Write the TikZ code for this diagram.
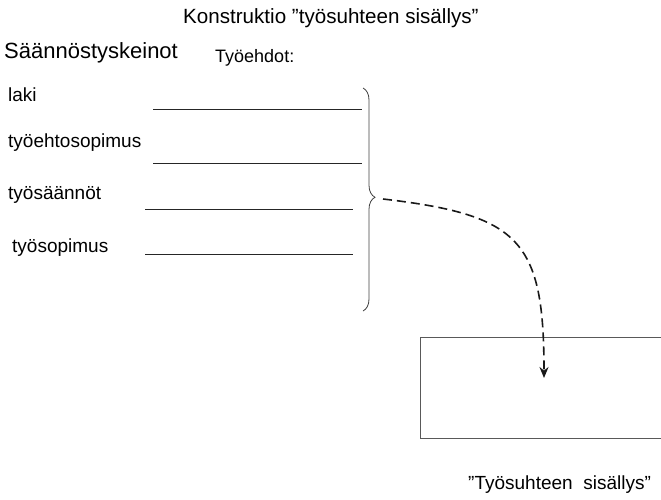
\documentclass[tikz,border=0pt]{standalone}
\usepackage{fontspec}
\setmainfont{Liberation Sans}
\usetikzlibrary{decorations.pathreplacing,arrows.meta}
\tikzset{
  lbl/.style={anchor=base west, inner sep=0pt, font=\fontsize{19}{23}\selectfont},
  blank/.style={draw=black!85, line width=0.8pt},
  conn/.style={draw=black!90, line width=1.6pt, dash pattern=on 9pt off 5pt, -{Stealth[length=11pt,width=9pt]}},
  brc/.style={draw=black!75, line width=0.8pt, decorate, decoration={brace, amplitude=12pt, aspect=0.49}},
  boxline/.style={draw=black!65, line width=0.9pt}
}
\begin{document}
\begin{tikzpicture}[x=1pt,y=-1pt]
\useasboundingbox (0,0) rectangle (661,499);
\node[anchor=base west, inner sep=0pt, font=\fontsize{20.6}{25}\selectfont] (title) at (183,23) {Konstruktio ”työsuhteen sisällys”};
\node[anchor=base west, inner sep=0pt, font=\fontsize{22}{26}\selectfont] (saan) at (4,58) {Säännöstyskeinot};
\node[anchor=base west, inner sep=0pt, font=\fontsize{18}{22}\selectfont] (ehdot) at (215,62) {Työehdot:};
\node[lbl] (laki) at (8,101) {laki};
\node[lbl] (tes) at (8,147) {työehtosopimus};
\node[lbl] (tsa) at (8,199) {työsäännöt};
\node[lbl] (tso) at (12,252) {työsopimus};
\coordinate (l1a) at (153,109); \coordinate (l1b) at (362,109);
\coordinate (l2a) at (153,163); \coordinate (l2b) at (362,163);
\coordinate (l3a) at (145,209); \coordinate (l3b) at (353,209);
\coordinate (l4a) at (145,254); \coordinate (l4b) at (353,254);
\draw[blank] (l1a) -- (l1b);
\draw[blank] (l2a) -- (l2b);
\draw[blank] (l3a) -- (l3b);
\draw[blank] (l4a) -- (l4b);
\coordinate (btop) at (363,88);
\coordinate (bbot) at (363,311);
\draw[brc] (btop) -- (bbot);
\coordinate (tip) at (383,199);
\coordinate (bx1) at (661,337);
\coordinate (bx2) at (420,337);
\coordinate (bx3) at (420,438);
\coordinate (bx4) at (661,438);
\draw[boxline] (bx1) -- (bx2) -- (bx3) -- (bx4);
\coordinate (target) at (544,378);
\draw[conn] (tip) .. controls (520,215) and (544,240) .. (target);
\node[anchor=base west, inner sep=0pt, font=\fontsize{19}{23}\selectfont] (sis) at (468,489) {”Työsuhteen\ \ sisällys”};
\end{tikzpicture}
\end{document}
